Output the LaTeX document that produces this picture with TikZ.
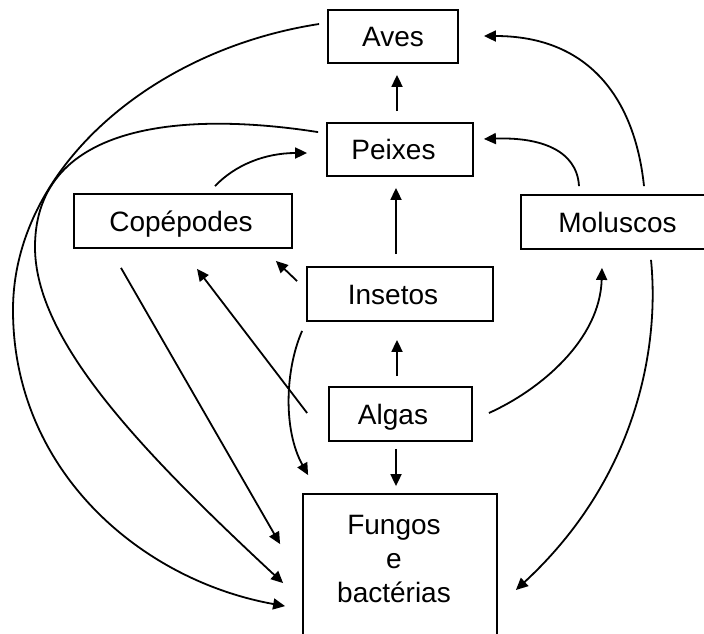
\documentclass[tikz,border=0pt]{standalone}
\usepackage{fontspec}
\setmainfont{Liberation Sans}
\usetikzlibrary{arrows.meta,calc}
\begin{document}
\begin{tikzpicture}[x=1pt,y=-1pt,
  box/.style={draw,line width=1.8pt,rectangle,inner sep=0pt,text height=20pt,text depth=0pt,font=\fontsize{28}{34}\selectfont},
  arr/.style={line width=1.8pt,-{Triangle[length=12pt,width=11pt]}}]
\useasboundingbox (0,0) rectangle (704,633);
\clip (0,0) rectangle (704,633);
\fill[white] (0,0) rectangle (704,633);

\node[box,minimum width=130pt,minimum height=53pt] (aves) at (393,36.5) {Aves};
\node[box,minimum width=146pt,minimum height=53pt] (peix) at (400,149.5) {Peixes\hspace*{13pt}};
\node[box,minimum width=218pt,minimum height=54pt] (cope) at (183,221) {Copépodes\hspace*{4pt}};
\node[box,minimum width=193pt,minimum height=54pt] (molu) at (617.5,222) {Moluscos};
\node[box,minimum width=186pt,minimum height=54pt] (inse) at (400,294) {Insetos\hspace*{14pt}};
\node[box,minimum width=143pt,minimum height=54pt] (alga) at (400.5,414) {Algas\hspace*{15pt}};
\node[draw,line width=1.8pt,rectangle,inner sep=0pt,minimum width=194pt,minimum height=170pt] (fung) at (400,579) {};
\node[font=\fontsize{28}{34}\selectfont,align=center,anchor=north,inner sep=0pt] (fungtxt) at (394,515) {Fungos\\e\hspace*{12pt}\\bactérias};

% straight arrows
\draw[arr] ([shift={(-3,-11)}]peix.north) -- ([shift={(4,11)}]aves.south);
\draw[arr] ([shift={(-4,-12)}]inse.north) -- ([shift={(-4,11)}]peix.south);
\draw[arr] ([shift={(-3.5,-10)}]alga.north) -- ([shift={(-3,18)}]inse.south);
\draw[arr] ([shift={(-4.5,7)}]alga.south) -- ([shift={(-4,-7)}]fung.north);
\draw[arr] ([shift={(-9,15)}]inse.north west) -- ([shift={(-17,12)}]cope.south east);
\draw[arr] ([shift={(-21,-1)}]alga.west) -- ([shift={(14,20)}]cope.south);
\draw[arr] ([shift={(-62,19)}]cope.south) -- ([shift={(-22,51)}]fung.north west);

% curved arrows
\draw[arr] ([shift={(-8,10)}]peix.north west) .. controls (190,112) and (35,120) .. (35,247)
  .. controls (35,340) and (140,450) .. ([shift={(-19,90)}]fung.north west);
\draw[arr] ([shift={(-8,-12.5)}]aves.west) .. controls (150,50) and (13,170) .. (13,310)
  .. controls (13,470) and (140,580) .. ([shift={(-17,113)}]fung.north west);
\draw[arr] ([shift={(-4,9)}]inse.south west) .. controls (285,370) and (283,430) .. ([shift={(6,-18)}]fung.north west);
\draw[arr] ([shift={(32,-7)}]cope.north) .. controls (235,165) and (265,153) .. ([shift={(-19,3.5)}]peix.west);
\draw[arr] ([shift={(-38.5,-8)}]molu.north) .. controls (577,150) and (540,137) .. ([shift={(10,-10.5)}]peix.east);
\draw[arr] ([shift={(26.5,-8)}]molu.north) .. controls (635,100) and (590,36) .. ([shift={(25,-0.5)}]aves.east);
\draw[arr] ([shift={(16,-1)}]alga.east) .. controls (540,390) and (600,340) .. ([shift={(-15.5,18)}]molu.south);
\draw[arr] ([shift={(33.5,10)}]molu.south) .. controls (660,350) and (635,480) .. ([shift={(18,11)}]fung.east);
\end{tikzpicture}
\end{document}
